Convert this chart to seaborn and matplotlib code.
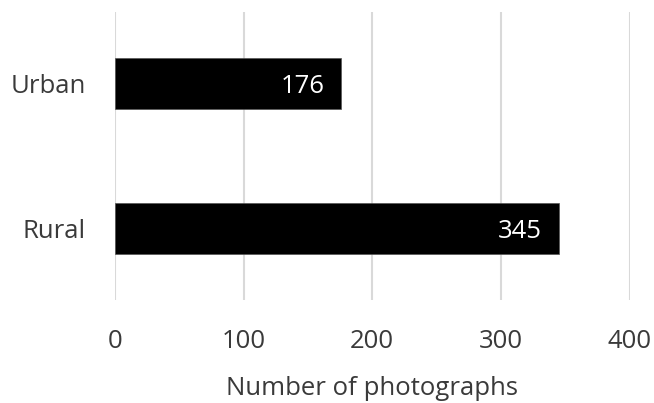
import matplotlib
matplotlib.use("Agg")
import matplotlib.pyplot as plt
import seaborn as sns
import pandas as pd

categories = ["Urban", "Rural"]
values = [176, 345]
xticks = [0, 100, 200, 300, 400]
xlabel = "Number of photographs"

sns.set_style("white")
plt.rcParams['font.family'] = ['Open Sans', 'DejaVu Sans']
text_color = "#3a3a3a"

df = pd.DataFrame({"area": categories, "count": values})

fig = plt.figure(figsize=(6.54, 4.03), dpi=100)
ax = fig.add_axes([0.1758, 0.2556, 0.7868, 0.7144])

sns.barplot(data=df, x="count", y="area", color="black", width=0.352,
            saturation=1, ax=ax, zorder=3, edgecolor="#555555", linewidth=0.5)

ax.set_xlim(0, 400)
ax.set_ylim(1.493, -0.493)
ax.set_xticks(xticks)
ax.set_xticklabels([str(t) for t in xticks])
ax.grid(axis="x", color="#d9d9d9", linewidth=1.5, zorder=0)
ax.grid(axis="y", visible=False)
for s in ax.spines.values():
    s.set_visible(False)
ax.tick_params(axis="x", length=0, pad=21, labelsize=18.5, labelcolor=text_color)
ax.tick_params(axis="y", length=0, pad=21, labelsize=18.5, labelcolor=text_color)
ax.set_ylabel("")
ax.set_xlabel(xlabel, fontsize=18.5, color=text_color, labelpad=16)

for cont in ax.containers:
    for bar, v in zip(cont, values):
        ax.annotate(str(v), xy=(bar.get_x() + bar.get_width(), bar.get_y() + bar.get_height() / 2),
                    xytext=(-12, -2), textcoords="offset points", ha="right", va="center",
                    color="white", fontsize=18.5, zorder=5)

fig.savefig("out.png", dpi=100)
